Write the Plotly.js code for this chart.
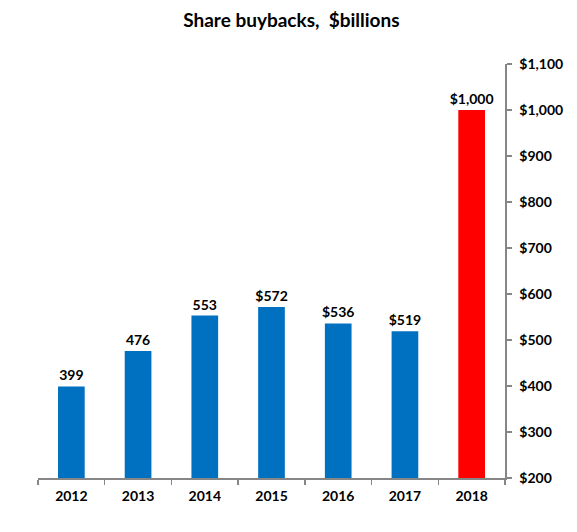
<!DOCTYPE html>
<html><head><meta charset="utf-8">
<script src="https://cdn.plot.ly/plotly-3.0.1.min.js"></script>
<style>html,body{margin:0;padding:0;background:#fff}#c{width:577px;height:532px}</style>
</head><body><div id="c"></div>
<script>
const years = ["2012","2013","2014","2015","2016","2017","2018"];
const buybacks = [399, 476, 553, 572, 536, 519, 1000];
const labels = ["399","476","553","$572","$536","$519","$1,000"];
const barColors = ["#0070C0","#0070C0","#0070C0","#0070C0","#0070C0","#0070C0","#FF0000"];
const yTickVals = [200,300,400,500,600,700,800,900,1000,1100];
const yTickText = ["$200","$300","$400","$500","$600","$700","$800","$900","$1,000","$1,100"];

const font = "Lato, 'Open Sans', sans-serif";
Plotly.newPlot('c', [{
  type: 'bar', x: years, y: buybacks, text: labels,
  textposition: 'outside', cliponaxis: false, constraintext: 'none',
  textfont: {family: font, size: 14, color: '#000', weight: 'bold'},
  marker: {color: barColors}, width: 0.4, hoverinfo: 'none'
}], {
  width: 577, height: 532,
  margin: {l: 38, r: 72, t: 64, b: 54},
  paper_bgcolor: '#fff', plot_bgcolor: '#fff',
  showlegend: false,
  title: {text: '<b>Share buybacks,  $billions</b>', x: 0.505, xanchor: 'center', y: 0.962, yanchor: 'middle',
    font: {family: font, size: 19, color: '#000'}},
  xaxis: {type: 'category', showline: true, linecolor: '#868686', linewidth: 1.5,
    ticks: 'outside', tickson: 'boundaries', ticklen: 5, tickcolor: '#868686', tickwidth: 1.5,
    ticklabelstandoff: 5,
    tickfont: {family: font, size: 14, color: '#000', weight: 'bold'}, showgrid: false, zeroline: false, fixedrange: true},
  yaxis: {side: 'right', range: [200, 1100], tickvals: yTickVals, ticktext: yTickText,
    showline: true, linecolor: '#868686', linewidth: 1.5, ticks: 'outside', ticklen: 5,
    tickcolor: '#868686', tickwidth: 1.5, showgrid: false, zeroline: false, ticklabelstandoff: 5,
    tickfont: {family: font, size: 14, color: '#000', weight: 'bold'}, fixedrange: true}
}, {staticPlot: true});
</script></body></html>
